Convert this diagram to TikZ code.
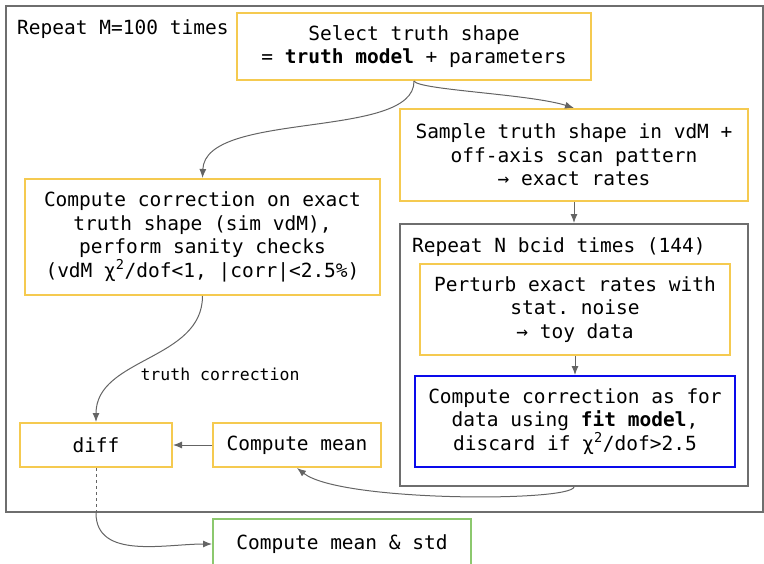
\documentclass[tikz,border=0pt]{standalone}
\usepackage{fontspec}
\setmonofont{DejaVu Sans Mono}
\usetikzlibrary{arrows.meta}

\definecolor{boxyellow}{RGB}{245,202,80}
\definecolor{framegray}{RGB}{110,110,110}
\definecolor{arrgray}{RGB}{100,100,100}
\definecolor{fitblue}{RGB}{10,10,235}
\definecolor{stdgreen}{RGB}{140,200,110}

\begin{document}
\begin{tikzpicture}[x=1pt,y=-1pt,
  font=\ttfamily\fontsize{19.5}{23.5}\selectfont,
  box/.style={draw=boxyellow,line width=2pt,fill=white,inner sep=0pt,align=center},
  frame/.style={draw=framegray,line width=2pt,inner sep=0pt},
  conn/.style={-{Latex[length=9pt,width=7pt]},draw=arrgray,line width=1pt}]
 \useasboundingbox (0,0) rectangle (764,563);

 % outer loop
 \node[frame,minimum width=757pt,minimum height=506pt] (outer) at (384.5,259) {};
 \node[anchor=west,inner sep=0pt] (outerlab) at (17,29) {Repeat M=100 times};

 \node[box,minimum width=354pt,minimum height=67pt] (sel) at (414,46.5)
   {Select truth shape\\= \textbf{truth model} + parameters};
 \node[box,minimum width=348pt,minimum height=92pt] (samp) at (574,155)
   {Sample truth shape in vdM +\\off-axis scan pattern\\→ exact rates};
 \node[box,minimum width=355pt,minimum height=116pt] (corr) at (202.5,237)
   {Compute correction on exact\\truth shape (sim vdM),\\perform sanity checks\\(vdM χ\textsuperscript{2}/dof<1, |corr|<2.5\%)};

 % inner loop over bcids
 \node[frame,minimum width=348pt,minimum height=262pt] (bcid) at (574,355) {};
 \node[anchor=west,inner sep=0pt] (bcidlab) at (412,247) {Repeat N bcid times (144)};
 \node[box,minimum width=310pt,minimum height=91pt] (pert) at (575,309.5)
   {Perturb exact rates with\\stat. noise\\→ toy data};
 \node[box,draw=fitblue,minimum width=320pt,minimum height=91pt] (fitc) at (575,421.5)
   {Compute correction as for\\data using \textbf{fit model},\\discard if χ\textsuperscript{2}/dof>2.5};

 \node[box,minimum width=152pt,minimum height=44pt] (diff) at (96,445) {diff};
 \node[box,minimum width=168pt,minimum height=44pt] (mean) at (297,445) {Compute mean};
 \node[box,draw=stdgreen,minimum width=258pt,minimum height=50pt] (std) at (342,544)
   {Compute mean \& std};

 \node[font=\ttfamily\fontsize{16.5}{20}\selectfont] (trlab) at (220,374) {truth correction};

 \draw[conn] (sel.south) .. controls (415,140) and (205,110) .. (corr.north);
 \draw[conn] (sel.south) .. controls (418,90) and (530,94) .. (samp.north);
 \draw[conn] (samp.south) to (bcid.north);
 \draw[conn] (pert.south) to (fitc.north);
 \draw[conn] (corr.south) to[out=-90,in=90] (diff.north);
 \draw[conn] (mean.west) to (diff.east);
 \draw[conn] (bcid.south) .. controls (570,502) and (340,502) .. (mean.south);
 \coordinate (cut) at (diff.south |- outer.south);
 \draw[arrgray,line width=1pt,dashed] (diff.south) to (cut);
 \draw[conn] (cut) to[out=-90,in=180] (std.west);
\end{tikzpicture}
\end{document}
